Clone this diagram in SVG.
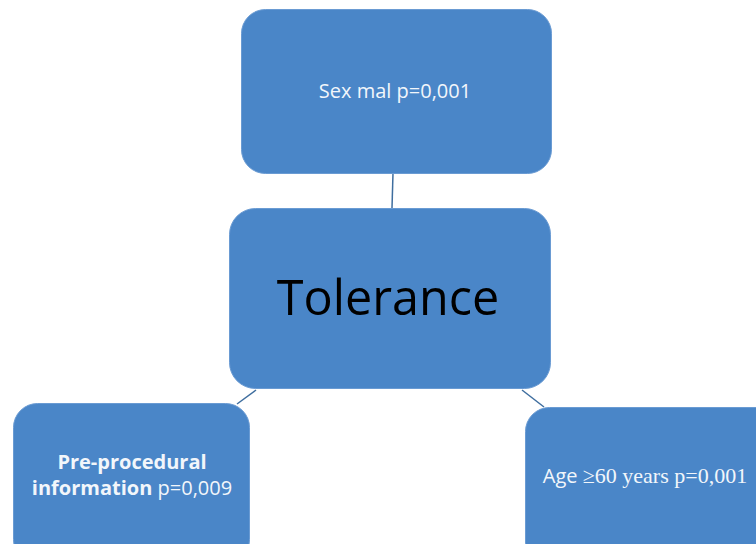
<svg xmlns="http://www.w3.org/2000/svg" width="756" height="544" viewBox="0 0 756 544">
<style>
.box{fill:#4a86c8;stroke:#6a9bd3;stroke-width:1}
.t{fill:#f2f6fb;font-family:"Open Sans","Liberation Sans",sans-serif;font-size:20px;text-anchor:middle}
.s{font-family:"Liberation Serif",serif}
.c{stroke:#3f6e9f;stroke-width:1.5;fill:none}
</style>
<rect width="756" height="544" fill="#ffffff"/>
<g id="connectors">
<line class="c" x1="393" y1="173" x2="392" y2="208"/>
<line class="c" x1="237" y1="404" x2="256" y2="390"/>
<line class="c" x1="522" y1="390" x2="544" y2="407"/>
</g>
<g id="sex">
<rect class="box" x="241.5" y="9.5" width="310" height="164" rx="24"/>
<text class="t" x="395" y="98" font-size="20.5">Sex mal p=0,001</text>
</g>
<g id="tolerance">
<rect class="box" x="229.5" y="208.5" width="321" height="180" rx="26"/>
<text class="t" x="388" y="315" style="fill:#000;font-size:48.5px">Tolerance</text>
</g>
<g id="preprocedural">
<rect class="box" x="13.5" y="403.5" width="236" height="160" rx="24"/>
<text class="t" x="132" y="469" font-weight="bold" font-size="19.5">Pre-procedural</text>
<text class="t" x="132" y="495" font-size="19.5"><tspan font-weight="bold">information</tspan> p=0,009</text>
</g>
<g id="age">
<rect class="box" x="525.5" y="407.5" width="260" height="160" rx="24"/>
<text class="t" x="645" y="483" font-size="21">Age <tspan class="s" font-size="22">≥60 years p=0,001</tspan></text>
</g>
</svg>
